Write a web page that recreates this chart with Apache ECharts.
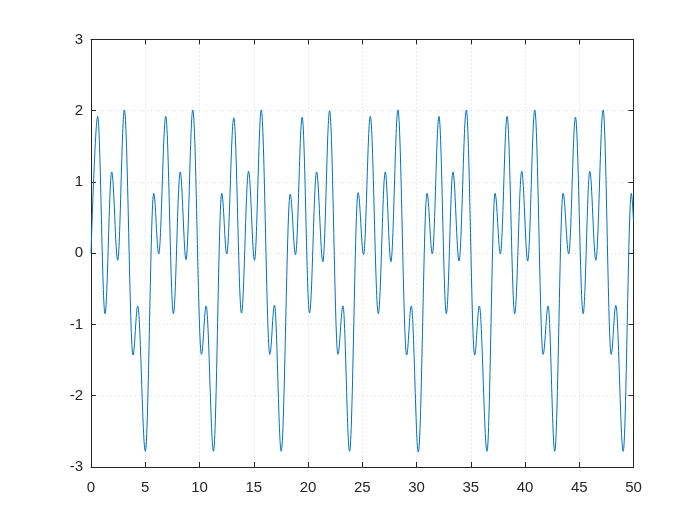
<!DOCTYPE html>
<html>
<head>
<meta charset="utf-8">
<script src="https://cdn.jsdelivr.net/npm/echarts@6/dist/echarts.min.js"></script>
<style>
html,body{margin:0;padding:0;background:#fff;}
#chart{width:700px;height:525px;}
</style>
</head>
<body>
<div id="chart"></div>
<script>
// Local extrema of the curve (t, y)
var tValues = [0, 0.615, 1.29, 1.91, 2.46, 3.075, 3.87, 4.305, 5.01, 5.78, 6.24,
  6.89, 7.595, 8.22, 8.76, 9.38, 10.18, 10.61, 11.29, 12.05, 12.51,
  13.16, 13.87, 14.52, 15.07, 15.69, 16.48, 16.91, 17.53, 18.36, 18.85,
  19.46, 20.14, 20.79, 21.37, 21.99, 22.76, 23.22, 23.83, 24.62, 25.12,
  25.74, 26.48, 27.12, 27.64, 28.29, 29.09, 29.52, 30.17, 30.97, 31.46,
  32.07, 32.75, 33.36, 33.92, 34.59, 35.36, 35.79, 36.50, 37.24, 37.73,
  38.35, 39.05, 39.70, 40.25, 40.90, 41.67, 42.13, 42.74, 43.51, 44.03,
  44.65, 45.36, 45.97, 46.53, 47.20, 47.94, 48.37, 49.05, 49.80, 50];
var yValues = [0.0, 1.92, -0.85, 1.14, -0.10, 2.01, -1.43, -0.74, -2.78, 0.84, -0.01,
  1.92, -0.85, 1.14, -0.09, 2.01, -1.42, -0.74, -2.78, 0.84, -0.01,
  1.90, -0.84, 1.15, -0.10, 2.01, -1.42, -0.73, -2.78, 0.83, -0.02,
  1.91, -0.84, 1.14, -0.12, 2.00, -1.42, -0.74, -2.78, 0.85, -0.02,
  1.92, -0.85, 1.14, -0.12, 2.01, -1.43, -0.74, -2.79, 0.84, -0.01,
  1.92, -0.85, 1.14, -0.11, 2.01, -1.43, -0.74, -2.78, 0.84, -0.01,
  1.92, -0.85, 1.15, -0.11, 2.01, -1.42, -0.74, -2.78, 0.84, -0.01,
  1.91, -0.85, 1.15, -0.10, 2.01, -1.42, -0.73, -2.78, 0.84, 0.45];
var xTicks = [0, 5, 10, 15, 20, 25, 30, 35, 40, 45, 50];
var yTicks = [-3, -2, -1, 0, 1, 2, 3];

var data = tValues.map(function (t, i) { return [t, yValues[i]]; });

var axisColor = '#262626';
var fontFam = '"Liberation Sans", Arial, Helvetica, sans-serif';
function baseAxis(min, max, interval, pos, showLabels, showSplit) {
  return {
    type: 'value', min: min, max: max, interval: interval, position: pos,
    axisLine: { show: true, onZero: false, lineStyle: { color: axisColor, width: 1 } },
    axisTick: { show: true, inside: true, length: 5, lineStyle: { color: axisColor, width: 1 } },
    axisLabel: { show: showLabels, color: axisColor, fontSize: 15, fontFamily: fontFam, margin: pos === 'bottom' ? 13 : 8 },
    splitLine: { show: showSplit, lineStyle: { color: '#d9d9d9', type: [1, 3], width: 1 } }
  };
}

var chart = echarts.init(document.getElementById('chart'), null, { renderer: 'canvas' });
chart.setOption({
  animation: false,
  backgroundColor: '#ffffff',
  grid: { left: 91, right: 66.5, top: 39.4, bottom: 58, containLabel: false },
  xAxis: [
    baseAxis(xTicks[0], xTicks[xTicks.length - 1], 5, 'bottom', true, true),
    baseAxis(xTicks[0], xTicks[xTicks.length - 1], 5, 'top', false, false)
  ],
  yAxis: [
    baseAxis(yTicks[0], yTicks[yTicks.length - 1], 1, 'left', true, true),
    baseAxis(yTicks[0], yTicks[yTicks.length - 1], 1, 'right', false, false)
  ],
  series: [{
    type: 'line',
    xAxisIndex: 0, yAxisIndex: 0,
    data: data,
    showSymbol: false,
    smooth: 0.36,
    smoothMonotone: 'x',
    lineStyle: { color: '#0072BD', width: 1 },
    emphasis: { disabled: true }
  }]
});
</script>
</body>
</html>
